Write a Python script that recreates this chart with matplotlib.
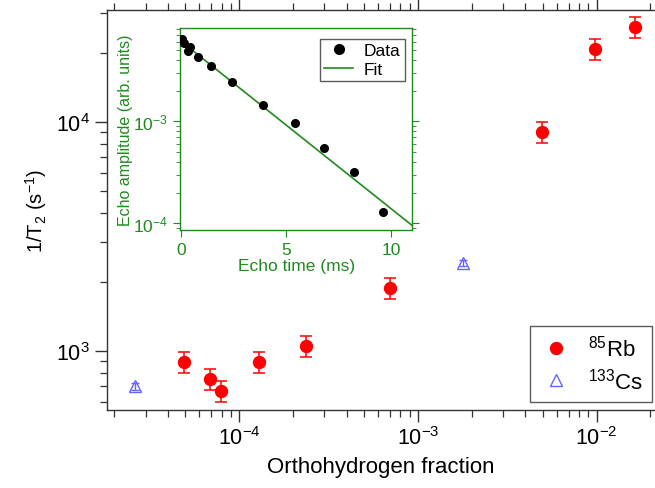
import numpy as np
import matplotlib
matplotlib.use("Agg")
import matplotlib.pyplot as plt
from matplotlib.lines import Line2D

plt.rcParams['font.family'] = ['Liberation Sans', 'DejaVu Sans']
plt.rcParams['mathtext.fontset'] = 'custom'
plt.rcParams['mathtext.rm'] = 'Liberation Sans'
plt.rcParams['mathtext.it'] = 'Liberation Sans:italic'
plt.rcParams['mathtext.default'] = 'regular'
plt.rcParams['axes.unicode_minus'] = False

# ---- main data ----
rb_x = [4.94e-5, 6.92e-5, 7.96e-5, 1.30e-4, 2.38e-4, 6.95e-4, 4.94e-3, 9.8e-3, 1.637e-2]
rb_y = [895, 752, 667, 895, 1048, 1884, 9020, 20850, 25920]
rb_err = [95, 80, 70, 95, 110, 200, 950, 2200, 2750]

cs_x = [2.62e-5, 1.79e-3]
cs_y = [701, 2421]
cs_err = [25, 80]

# ---- inset data ----
echo_t = [0.05, 0.16, 0.35, 0.43, 0.81, 1.43, 2.41, 3.90, 5.43, 6.83, 8.24, 9.63]
echo_a = [6.4e-3, 5.8e-3, 4.93e-3, 5.39e-3, 4.31e-3, 3.52e-3, 2.45e-3, 1.46e-3,
          9.7e-4, 5.48e-4, 3.21e-4, 1.30e-4]
fit_amp = 6.08e-3
fit_T2 = 2.65  # ms
fit_t = [0.0, 11.0]

green = '#1e8a1e'
red = '#ff0000'
blue = '#6464ff'

fig = plt.figure(figsize=(6.55, 4.89), dpi=100)
ax = fig.add_axes([106.7/655, 1-410.7/489, 1-106.7/655, (410.7-11)/489])
ax.set_xscale('log')
ax.set_yscale('log')
ax.set_xlim(1.82e-5, 2.12e-2)
ax.set_ylim(554, 30800)

ax.errorbar(rb_x, rb_y, yerr=rb_err, fmt='o', color=red, ms=8.6, ecolor=red,
            elinewidth=1.1, capsize=4, capthick=1.1, zorder=3)
ax.errorbar(cs_x, cs_y, yerr=cs_err, fmt='^', mfc='none', mec=blue, color=blue,
            ms=9, mew=1.0, ecolor=blue, elinewidth=1.0, capsize=3, capthick=1.0, zorder=3)

ax.spines['right'].set_visible(False)
for s in ['left', 'bottom', 'top']:
    ax.spines[s].set_color('#333333')
    ax.spines[s].set_linewidth(1.0)
ax.tick_params(which='both', direction='out', top=True, right=False, color='#333333',
               labelsize=15.5)
ax.tick_params(which='major', length=8.5, width=1.0)
ax.tick_params(which='minor', length=5, width=0.9)
ax.set_xlabel('Orthohydrogen fraction', fontsize=16, labelpad=5)
ax.set_ylabel('1/T$_2$ (s$^{-1}$)', fontsize=14.5, labelpad=5)

h1 = Line2D([], [], marker='o', color=red, ls='none', ms=8.6)
h2 = Line2D([], [], marker='^', mfc='none', mec=blue, ls='none', ms=9, mew=1.0)
leg = ax.legend([h1, h2], ['$^{85}$Rb', '$^{133}$Cs'], loc='lower right',
                bbox_to_anchor=(652/655, 1-403/489), bbox_transform=fig.transFigure,
                borderaxespad=0, fontsize=16, frameon=True, fancybox=False,
                edgecolor='#333333', handletextpad=0.7, borderpad=0.4,
                labelspacing=0.3, handlelength=1.5)
leg.get_frame().set_linewidth(1.0)

# ---- inset ----
ia = fig.add_axes([180/655, 1-230.7/489, (412.3-180)/655, (230.7-29.3)/489])
ia.set_yscale('log')
ia.set_xlim(-0.05, 11.02)
ia.set_ylim(8.66e-5, 8.16e-3)
tt = np.linspace(fit_t[0], fit_t[1], 50)
ia.plot(tt, fit_amp*np.exp(-tt/fit_T2), color=green, lw=1.2, label='Fit', zorder=2)
ia.plot(echo_t, echo_a, 'o', color='black', ms=5.5, label='Data', zorder=3)
for s in ia.spines.values():
    s.set_color(green)
    s.set_linewidth(1.0)
ia.set_xticks([0, 5, 10])
ia.tick_params(which='both', direction='out', colors=green, labelsize=12.5,
               right=True, top=False)
ia.tick_params(which='major', length=5)
ia.tick_params(which='minor', length=3)
ia.xaxis.set_minor_locator(matplotlib.ticker.NullLocator())
ia.set_xlabel('Echo time (ms)', color=green, fontsize=12.5, labelpad=1)
ia.set_ylabel('Echo amplitude (arb. units)', color=green, fontsize=11.5, labelpad=0)
hd = Line2D([], [], marker='o', color='black', ls='none', ms=7)
hf = Line2D([], [], color=green, lw=1.2)
ileg = ia.legend([hd, hf], ['Data', 'Fit'], loc='upper right',
                 bbox_to_anchor=(405/655, 1-40/489), bbox_transform=fig.transFigure,
                 borderaxespad=0, fontsize=12.5, frameon=True, fancybox=False,
                 edgecolor='#333333', borderpad=0.25, labelspacing=0.2,
                 handlelength=1.7, handletextpad=0.6)
ileg.get_frame().set_linewidth(1.0)

fig.savefig('out.png', dpi=100)
